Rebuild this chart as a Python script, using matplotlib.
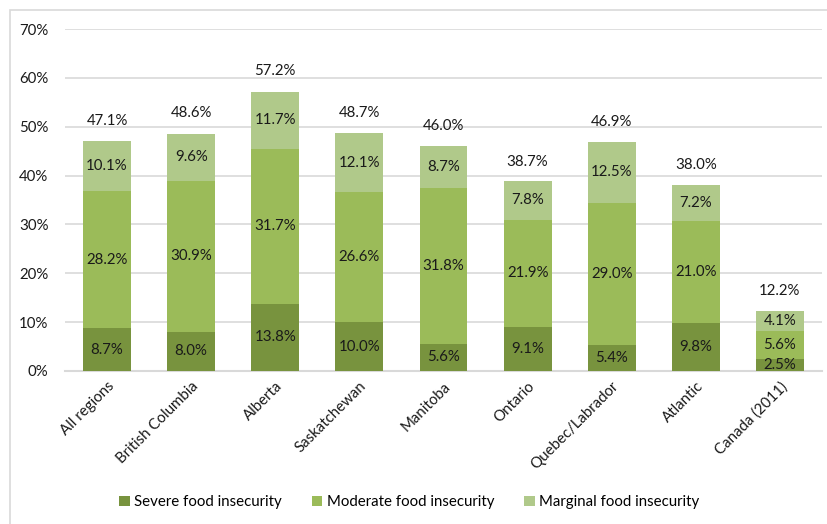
import matplotlib
matplotlib.use("Agg")
import matplotlib.pyplot as plt
from matplotlib.patches import Rectangle
import numpy as np

plt.rcParams['font.family'] = ['Lato', 'DejaVu Sans']

categories = ["All regions", "British Columbia", "Alberta", "Saskatchewan", "Manitoba",
              "Ontario", "Quebec/Labrador", "Atlantic", "Canada (2011)"]
severe = [8.7, 8.0, 13.8, 10.0, 5.6, 9.1, 5.4, 9.8, 2.5]
moderate = [28.2, 30.9, 31.7, 26.6, 31.8, 21.9, 29.0, 21.0, 5.6]
marginal = [10.1, 9.6, 11.7, 12.1, 8.7, 7.8, 12.5, 7.2, 4.1]
totals = [47.1, 48.6, 57.2, 48.7, 46.0, 38.7, 46.9, 38.0, 12.2]
yticks = [0, 10, 20, 30, 40, 50, 60, 70]

series_names = ["Severe food insecurity", "Moderate food insecurity", "Marginal food insecurity"]
colors = ["#78933E", "#9BBB59", "#B0C98A"]

fs = 10.8
fig = plt.figure(figsize=(8.27, 5.24), dpi=100)
ax = fig.add_axes([65/827, 1-371/524, (822-65)/827, (371-29)/524])

# outer frame
fig.patches.append(Rectangle((10/827, -0.1), 1.2, 1-10/524+0.1, transform=fig.transFigure,
                             fill=False, edgecolor="#D9D9D9", linewidth=1.2, zorder=0))

x = np.arange(len(categories))
w = 0.57
bottom = np.zeros(len(categories))
handles = []
for vals, col, name in zip([severe, moderate, marginal], colors, series_names):
    vals = np.array(vals)
    b = ax.bar(x, vals, w, bottom=bottom, color=col, label=name, zorder=3)
    handles.append(b)
    for xi, v, bt in zip(x, vals, bottom):
        ax.text(xi, bt + v/2, f"{v:.1f}%", ha="center", va="center", fontsize=fs,
                color="#1a1a1a", zorder=4)
    bottom = bottom + vals

for xi, t in zip(x, totals):
    ax.annotate(f"{t:.1f}%", (xi, t), xytext=(0, 14.5), textcoords="offset points",
                ha="center", va="center", fontsize=fs, color="#1a1a1a")

ax.set_ylim(0, 70)
ax.set_xlim(-0.5, len(categories) - 0.5)
ax.set_yticks(yticks)
ax.set_yticklabels([f"{v}%" for v in yticks], fontsize=fs, color="#1a1a1a")
ax.set_xticks(x)
ax.set_xticklabels(categories, rotation=45, ha="right", rotation_mode="anchor",
                   fontsize=fs, color="#1a1a1a")
ax.tick_params(axis="both", length=0)
ax.tick_params(axis="y", pad=12)
ax.tick_params(axis="x", pad=6)
ax.grid(axis="y", color="#D9D9D9", linewidth=1.2, zorder=0)
ax.set_axisbelow(True)
for s in ["top", "right", "left"]:
    ax.spines[s].set_visible(False)
ax.spines["bottom"].set_color("#D9D9D9")
ax.spines["bottom"].set_linewidth(1.5)

fig.legend(handles=handles, loc="center", bbox_to_anchor=(0.495, 1-502/524), ncol=3,
           frameon=False, fontsize=fs, handlelength=0.7, handleheight=0.7,
           handletextpad=0.3, columnspacing=2.0)

fig.savefig("out.png", dpi=100)
